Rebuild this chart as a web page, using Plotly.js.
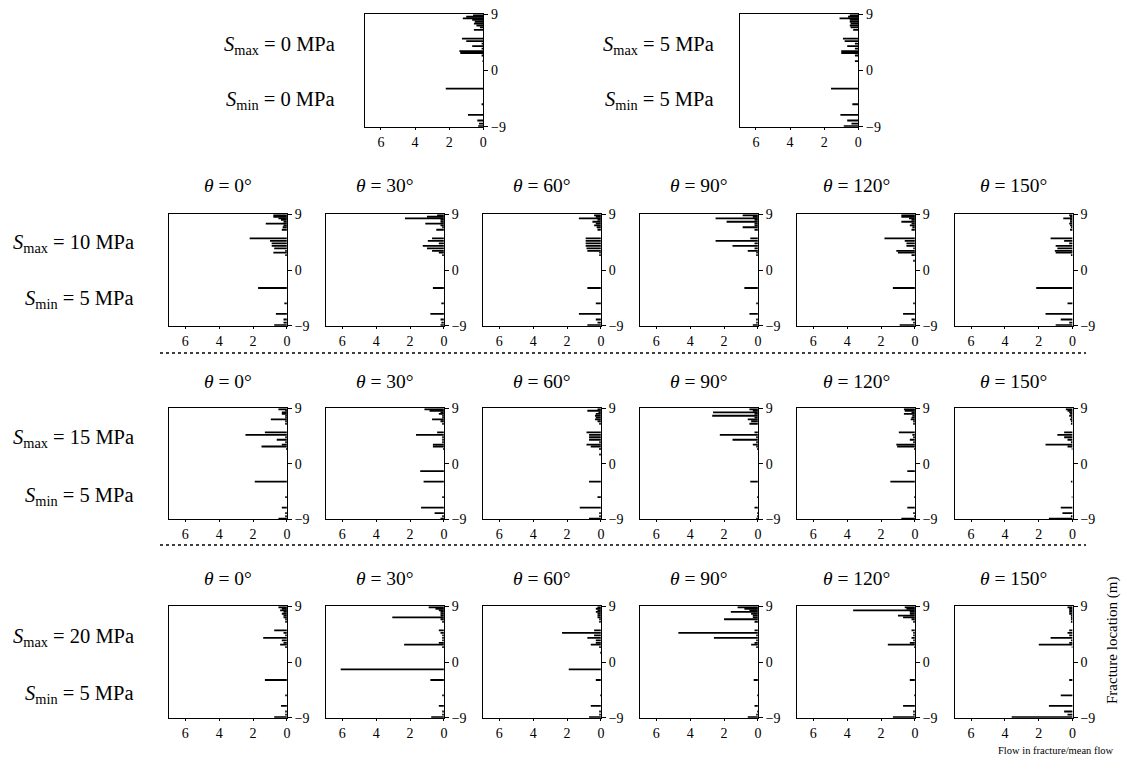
<!DOCTYPE html>
<html>
<head>
<meta charset="utf-8">
<script src="https://cdn.plot.ly/plotly-3.0.1.min.js"></script>
<style>
  html, body { margin: 0; padding: 0; background: #fff; }
  #chart { width: 1121px; height: 765px; }
</style>
</head>
<body>
<div id="chart"></div>
<script>
// Fracture locations along the borehole (m), shared by all panels
const fracLoc = [8.85, 8.6, 8.35, 8.1, 7.8, 7.5, 7.2, 6.9, 6.5, 5.1, 4.7, 4.3, 3.9, 3.5, 3.1, 2.8, 2.4, 1.5, -1.2, -2.9, -5.4, -7.1, -8.0, -8.5, -8.9];

// Isotropic stress states
const flowS0 = [0.6, 1.0, 1.2, 0.65, 0.5, 0.55, 0.4, 0.2, 0.55, 1.25, 1.0, 0.1, 0.65, 0.1, 1.4, 1.35, 0.1, 0.05, 0, 2.2, 0.1, 0.9, 0.35, 0.25, 0.3];
const flowS5 = [0.5, 0.6, 1.1, 0.5, 0.5, 0.45, 0.5, 0.45, 0.3, 0.9, 0.8, 0.2, 0.65, 0.2, 1.0, 1.0, 0.2, 0.2, 0, 1.6, 0.35, 1.05, 0.65, 0.4, 0.85];

// Smax = 10 MPa, Smin = 5 MPa
const flow10_t0   = [0.8, 0.8, 0.5, 0.35, 0.2, 1.25, 0.2, 0.25, 0.3, 2.2, 1.0, 0.9, 0.9, 0.75, 0.1, 0.8, 0.1, 0, 0, 1.7, 0.15, 0.65, 0.2, 0.2, 0.75];
const flow10_t30  = [0.4, 1.0, 2.3, 0.2, 0.2, 1.1, 0.2, 0.1, 0.45, 0.7, 0.95, 0.3, 1.25, 1.0, 0.7, 0.3, 0.1, 0, 0, 0.65, 0.15, 0.8, 0.2, 0.15, 0.2];
const flow10_t60  = [0.4, 0.3, 1.3, 0.2, 0.5, 0.3, 0.4, 0.25, 0.2, 0.9, 0.9, 0.9, 0.9, 0.85, 0.8, 0.1, 0.1, 0, 0, 0.8, 0.3, 1.3, 0.3, 0.2, 0.8];
const flow10_t90  = [0.9, 0.3, 2.5, 0.2, 1.85, 0.2, 0.2, 0.9, 0.2, 0.45, 2.5, 0.2, 1.5, 0.2, 0.6, 0.1, 0.1, 0, 0, 0.8, 0.1, 0.5, 0.1, 0.1, 0.3];
const flow10_t120 = [0.8, 0.8, 0.35, 0.2, 0.8, 0.2, 0.3, 0.15, 0.2, 1.8, 0.6, 0.5, 0.5, 0.1, 1.1, 1.0, 0.2, 0.1, 0, 1.3, 0.1, 0.7, 0.2, 0.1, 0.9];
const flow10_t150 = [0.2, 0.15, 0.55, 0.15, 0.15, 0.2, 0.15, 0.1, 0.15, 1.3, 0.5, 0.2, 1.0, 0.9, 1.05, 1.0, 0.1, 0, 0, 2.15, 0.3, 1.6, 0.7, 0.2, 1.0];

// Smax = 15 MPa, Smin = 5 MPa
const flow15_t0   = [0.5, 0.1, 0.3, 0.3, 0.1, 0.1, 0.95, 0.1, 0.1, 1.3, 2.45, 0.1, 0.6, 0.1, 0.3, 1.5, 0.05, 0, 0, 1.9, 0.1, 0.3, 0.1, 0.1, 0.5];
const flow15_t30  = [1.15, 0.85, 0.2, 0.3, 0.1, 0.1, 0.7, 0.2, 0.1, 0.4, 1.65, 0.1, 0.1, 0.1, 0.65, 0.65, 0.05, 0, 1.4, 1.2, 0.1, 1.35, 0.55, 0.1, 0.2];
const flow15_t60  = [0.2, 0.8, 0.15, 0.3, 0.35, 0.3, 0.35, 0.2, 0.1, 0.85, 0.7, 0.7, 0.7, 0.1, 0.85, 0.6, 0.1, 0.1, 0, 0.7, 0.2, 1.25, 0.1, 0.1, 0.7];
const flow15_t90  = [0.5, 0.3, 2.65, 0.2, 2.7, 0.2, 0.6, 0.4, 0.5, 0.2, 2.25, 0.1, 1.5, 0.1, 0.3, 0.1, 0.05, 0, 0, 0.45, 0.05, 0.2, 0.05, 0.05, 0.1];
const flow15_t120 = [0.65, 0.6, 0.2, 0.65, 0.15, 0.2, 0.25, 0.1, 0.1, 0.95, 0.15, 0.1, 0.3, 0.1, 1.1, 1.05, 0.05, 0, 0.45, 1.45, 0.05, 0.45, 0.1, 0.05, 0.8];
const flow15_t150 = [0.4, 0.3, 0.2, 0.15, 0.2, 0.1, 0.15, 0.1, 0.1, 0.5, 0.9, 0.5, 0.3, 0.1, 1.6, 0.3, 0.05, 0, 0, 0.1, 0.05, 0.7, 0.6, 0.1, 1.4];

// Smax = 20 MPa, Smin = 5 MPa
const flow20_t0   = [0.5, 0.3, 0.4, 0.2, 0.3, 0.2, 0.2, 0.1, 0.1, 0.75, 0.2, 0.1, 1.4, 0.3, 0.2, 0.4, 0.1, 0, 0, 1.3, 0.1, 0.35, 0.1, 0.1, 0.75];
const flow20_t30  = [0.9, 0.5, 0.3, 0.2, 0.2, 0.2, 3.05, 0.2, 0.1, 0.3, 0.2, 0.1, 0.1, 0.1, 0.3, 2.35, 0.1, 0, 6.1, 0.8, 0.1, 0.3, 0.1, 0.1, 0.75];
const flow20_t60  = [0.2, 0.3, 0.2, 0.3, 0.2, 0.2, 0.2, 0.1, 0.1, 0.4, 2.3, 0.4, 0.8, 0.3, 0.3, 0.6, 0.1, 0.05, 1.9, 0.3, 0.05, 0.6, 0.1, 0.1, 0.7];
const flow20_t90  = [1.2, 0.8, 0.5, 1.6, 0.4, 0.3, 0.3, 2.0, 0.2, 0.2, 4.7, 0.1, 2.6, 0.1, 0.2, 0.4, 0.1, 0, 0, 0.25, 0.05, 0.2, 0.05, 0.1, 0.6];
const flow20_t120 = [0.6, 0.5, 3.65, 0.3, 0.3, 1.0, 0.7, 0.2, 0.1, 0.2, 0.1, 0.1, 0.2, 0.1, 0.3, 1.6, 0.05, 0, 0, 0.3, 0.05, 0.7, 0.1, 0.1, 1.3];
const flow20_t150 = [0.3, 0.2, 0.2, 0.2, 0.2, 0.1, 0.1, 0.1, 0.1, 0.2, 0.3, 0.2, 1.3, 0.1, 0.2, 2.0, 0.05, 0, 0, 0.2, 0.7, 1.4, 0.5, 0.3, 3.6];

const thetaLabels = ["0°", "30°", "60°", "90°", "120°", "150°"];
const smaxRows = [10, 15, 20];
const sminRow = 5;
const xTicks = [0, 2, 4, 6];
const yTicks = [-9, 0, 9];

const W = 1121, H = 765;
const FONT = "Liberation Serif, Times New Roman, serif";
const px = v => v / W;
const py = v => 1 - v / H;

// Panel frames in pixels: [left, right, top, bottom]
const panels = [];
const colLeft = [169.3, 326.3, 483.3, 640.3, 797.3, 955];
const panelW = 117.6;
const rowTops = [[214.3, 325.7], [408.3, 519.3], [606.3, 717.7]];

panels.push({ flow: flowS0, box: [364.7, 483.3, 14.3, 126.7] });
panels.push({ flow: flowS5, box: [739.7, 858.3, 14.3, 126.7] });
const rowFlows = [
  [flow10_t0, flow10_t30, flow10_t60, flow10_t90, flow10_t120, flow10_t150],
  [flow15_t0, flow15_t30, flow15_t60, flow15_t90, flow15_t120, flow15_t150],
  [flow20_t0, flow20_t30, flow20_t60, flow20_t90, flow20_t120, flow20_t150]
];
rowFlows.forEach((row, r) => {
  row.forEach((f, c) => {
    panels.push({ flow: f, box: [colLeft[c], colLeft[c] + panelW, rowTops[r][0], rowTops[r][1]] });
  });
});

const traces = [];
const layout = {
  width: W, height: H,
  margin: { l: 0, r: 0, t: 0, b: 0 },
  paper_bgcolor: "#fff", plot_bgcolor: "#fff",
  showlegend: false,
  hovermode: false,
  font: { family: FONT, color: "#000", size: 14 },
  annotations: [],
  shapes: []
};

panels.forEach((p, i) => {
  const n = i + 1;
  const xa = "x" + (n === 1 ? "" : n), ya = "y" + (n === 1 ? "" : n);
  const xkey = "xaxis" + (n === 1 ? "" : n), ykey = "yaxis" + (n === 1 ? "" : n);
  traces.push({
    type: "bar", orientation: "h",
    x: p.flow, y: fracLoc, width: 0.3,
    marker: { color: "#000", line: { width: 0 } },
    xaxis: xa, yaxis: ya
  });
  const [l, r, t, b] = p.box;
  layout[xkey] = {
    domain: [px(l), px(r)], anchor: ya,
    range: [6.95, 0], tickvals: xTicks,
    showgrid: false, zeroline: false,
    showline: true, mirror: true, linecolor: "#000", linewidth: 1,
    ticks: "outside", ticklen: 2, tickcolor: "#000",
    tickfont: { family: FONT, size: 14, color: "#000" }
  };
  layout[ykey] = {
    domain: [py(b), py(t)], anchor: xa, side: "right",
    range: [-9, 9], tickvals: yTicks,
    showgrid: false, zeroline: false,
    showline: true, mirror: true, linecolor: "#000", linewidth: 1,
    ticks: "outside", ticklen: 4, tickcolor: "#000",
    tickfont: { family: FONT, size: 14, color: "#000" }
  };
});

function addText(text, x, y, opts) {
  layout.annotations.push(Object.assign({
    text: text, x: px(x), y: py(y), xref: "paper", yref: "paper",
    showarrow: false, xanchor: "right", yanchor: "middle",
    font: { family: FONT, size: 20.5, color: "#000" }
  }, opts || {}));
}

// Stress labels for the isotropic panels
addText("<i>S</i><sub>max</sub> = 0 MPa", 337, 45);
addText("<i>S</i><sub>min</sub> = 0 MPa", 337, 101);
addText("<i>S</i><sub>max</sub> = 5 MPa", 716, 45);
addText("<i>S</i><sub>min</sub> = 5 MPa", 716, 101);

// Row labels and orientation headings
const rowLabelY = [[243, 300], [439, 496], [637, 694]];
const thetaY = [185, 381, 578];
smaxRows.forEach((s, r) => {
  addText("<i>S</i><sub>max</sub> = " + s + " MPa", 136, rowLabelY[r][0]);
  addText("<i>S</i><sub>min</sub> = " + sminRow + " MPa", 136, rowLabelY[r][1]);
  thetaLabels.forEach((t, c) => {
    addText("<i>θ</i> = " + t, colLeft[c] + panelW / 2, thetaY[r], { xanchor: "center", font: { family: FONT, size: 19.5, color: "#000" } });
  });
});

// Axis descriptions
addText("Fracture location (m)", 1112, 641, { xanchor: "center", textangle: -90, font: { family: FONT, size: 15, color: "#000" } });
addText("Flow in fracture/mean flow", 1116, 750, { font: { family: FONT, size: 10.5, color: "#000" } });

// Dotted separators between stress groups
[353, 545].forEach(yy => {
  layout.shapes.push({
    type: "line", xref: "paper", yref: "paper",
    x0: px(160), x1: px(1086), y0: py(yy), y1: py(yy),
    line: { color: "#000", width: 1.5, dash: "dot" }
  });
});

Plotly.newPlot("chart", traces, layout, { staticPlot: true, displayModeBar: false });
</script>
</body>
</html>
